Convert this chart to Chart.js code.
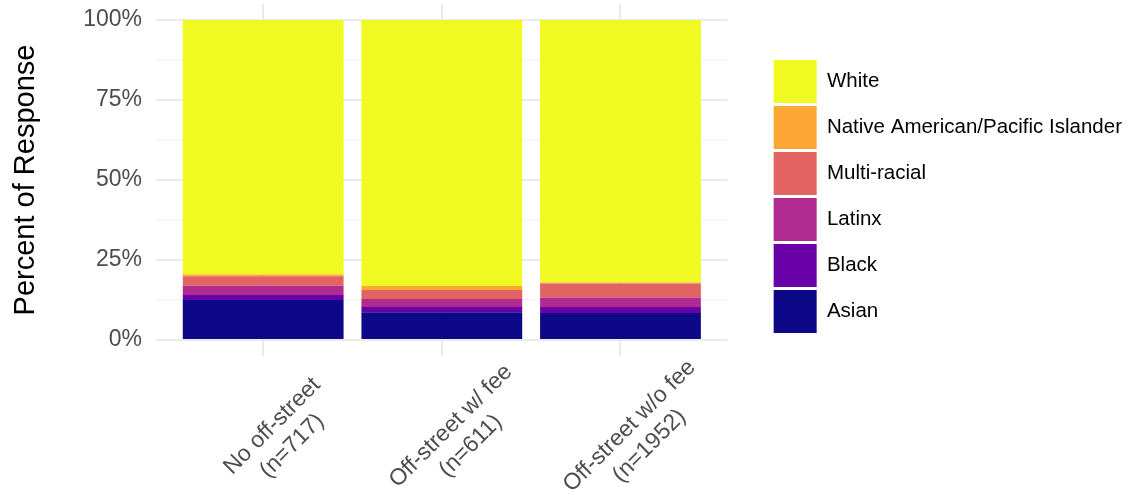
<!DOCTYPE html>
<html>
<head>
<meta charset="utf-8">
<script src="https://cdn.jsdelivr.net/npm/chart.js@4.4.1/dist/chart.umd.min.js"></script>
<style>
    html, body { margin: 0; padding: 0; background: #fff; }
</style>
</head>
<body>
<canvas id="raceChart" width="1130" height="497"></canvas>
<script>
// Categories (two-line labels) and series values in percent, bottom to top
const categories = [
    ['No off-street', '(n=717)'],
    ['Off-street w/ fee', '(n=611)'],
    ['Off-street w/o fee', '(n=1952)']
];
const asian = [12.5, 8.65, 8.45];
const black = [1.55, 1.65, 1.9];
const latinx = [2.9, 2.5, 2.9];
const multiRacial = [3.0, 2.8, 4.4];
const nativeAmPI = [0.55, 1.25, 0.3];
const white = [79.5, 83.15, 82.05];
const yTicks = [0, 12.5, 25, 37.5, 50, 62.5, 75, 87.5, 100];

const FONT = '"Liberation Sans", Arial, sans-serif';
Chart.defaults.font.family = FONT;

const series = [
    { label: 'Asian', values: asian, color: '#0d0887' },
    { label: 'Black', values: black, color: '#6a00a8' },
    { label: 'Latinx', values: latinx, color: '#b12a90' },
    { label: 'Multi-racial', values: multiRacial, color: '#e16462' },
    { label: 'Native American/Pacific Islander', values: nativeAmPI, color: '#fca636' },
    { label: 'White', values: white, color: '#f0f921' }
];

// x labels drawn centred and rotated like ggplot does
const xLabels = {
    id: 'xLabels',
    afterDraw(chart) {
        const { ctx, scales: { x } } = chart;
        ctx.save();
        ctx.font = '23px ' + FONT;
        ctx.fillStyle = '#4d4d4d';
        ctx.textAlign = 'center';
        ctx.textBaseline = 'middle';
        categories.forEach((lines, i) => {
            const px = x.getPixelForValue(i + 1);
            ctx.save();
            ctx.translate(px + 19, x.top + 80);
            ctx.rotate(-Math.PI / 4);
            lines.forEach((t, j) => ctx.fillText(t, 0, (j - (lines.length - 1) / 2) * 28));
            ctx.restore();
        });
        ctx.restore();
    }
};

function noPad(s) {
    s.paddingTop = 0;
    s.paddingBottom = 0;
    s.paddingLeft = 0;
    s.paddingRight = 0;
}

const ctx = document.getElementById('raceChart').getContext('2d');
new Chart(ctx, {
    type: 'bar',
    data: {
        datasets: series.map(s => ({
            label: s.label,
            data: s.values.map((v, i) => ({ x: i + 1, y: v })),
            backgroundColor: s.color,
            borderWidth: 0,
            categoryPercentage: 1,
            barPercentage: 0.9
        }))
    },
    options: {
        responsive: false,
        animation: false,
        layout: { padding: { top: 4, right: -2, bottom: 0, left: 0 } },
        plugins: {
            tooltip: { enabled: false },
            legend: {
                position: 'right',
                fullSize: false,
                reverse: true,
                align: 'center',
                maxWidth: 420,
                title: {
                    display: true,
                    text: ' ',
                    font: { size: 1, lineHeight: 1 },
                    padding: { top: 32, bottom: 0 }
                },
                labels: {
                    boxWidth: 43,
                    boxHeight: 43,
                    padding: 3,
                    color: '#000',
                    font: { size: 20.5 }
                }
            }
        },
        scales: {
            x: {
                type: 'linear',
                min: 0.4,
                max: 3.6,
                offset: false,
                stacked: true,
                afterBuildTicks: s => { s.ticks = categories.map((c, i) => ({ value: i + 1 })); },
                afterFit: s => { s.height = 141; noPad(s); },
                ticks: { display: false },
                grid: { color: '#ebebeb', lineWidth: 2, drawTicks: false, offset: false },
                border: { display: false }
            },
            y: {
                stacked: true,
                min: -5,
                max: 105,
                afterBuildTicks: s => { s.ticks = yTicks.map(v => ({ value: v })); },
                afterFit: s => { s.width = 156; noPad(s); },
                ticks: {
                    callback: v => (v % 25 === 0 ? v + '%' : ''),
                    color: '#4d4d4d',
                    font: { size: 23 },
                    padding: 14
                },
                grid: {
                    color: c => (c.tick && c.tick.value % 25 === 0 ? '#ebebeb' : '#f2f2f2'),
                    lineWidth: c => (c.tick && c.tick.value % 25 === 0 ? 2 : 1.2),
                    drawTicks: false
                },
                border: { display: false },
                title: {
                    display: true,
                    text: 'Percent of Response',
                    color: '#000',
                    font: { size: 29 },
                    padding: { top: 9, bottom: 0 }
                }
            },
            // empty strip between the panel and the legend
            gap: {
                position: 'right',
                display: true,
                afterFit: s => { s.width = 43; noPad(s); },
                ticks: { display: false },
                grid: { display: false },
                border: { display: false }
            }
        }
    },
    plugins: [xLabels]
});
</script>
</body>
</html>
